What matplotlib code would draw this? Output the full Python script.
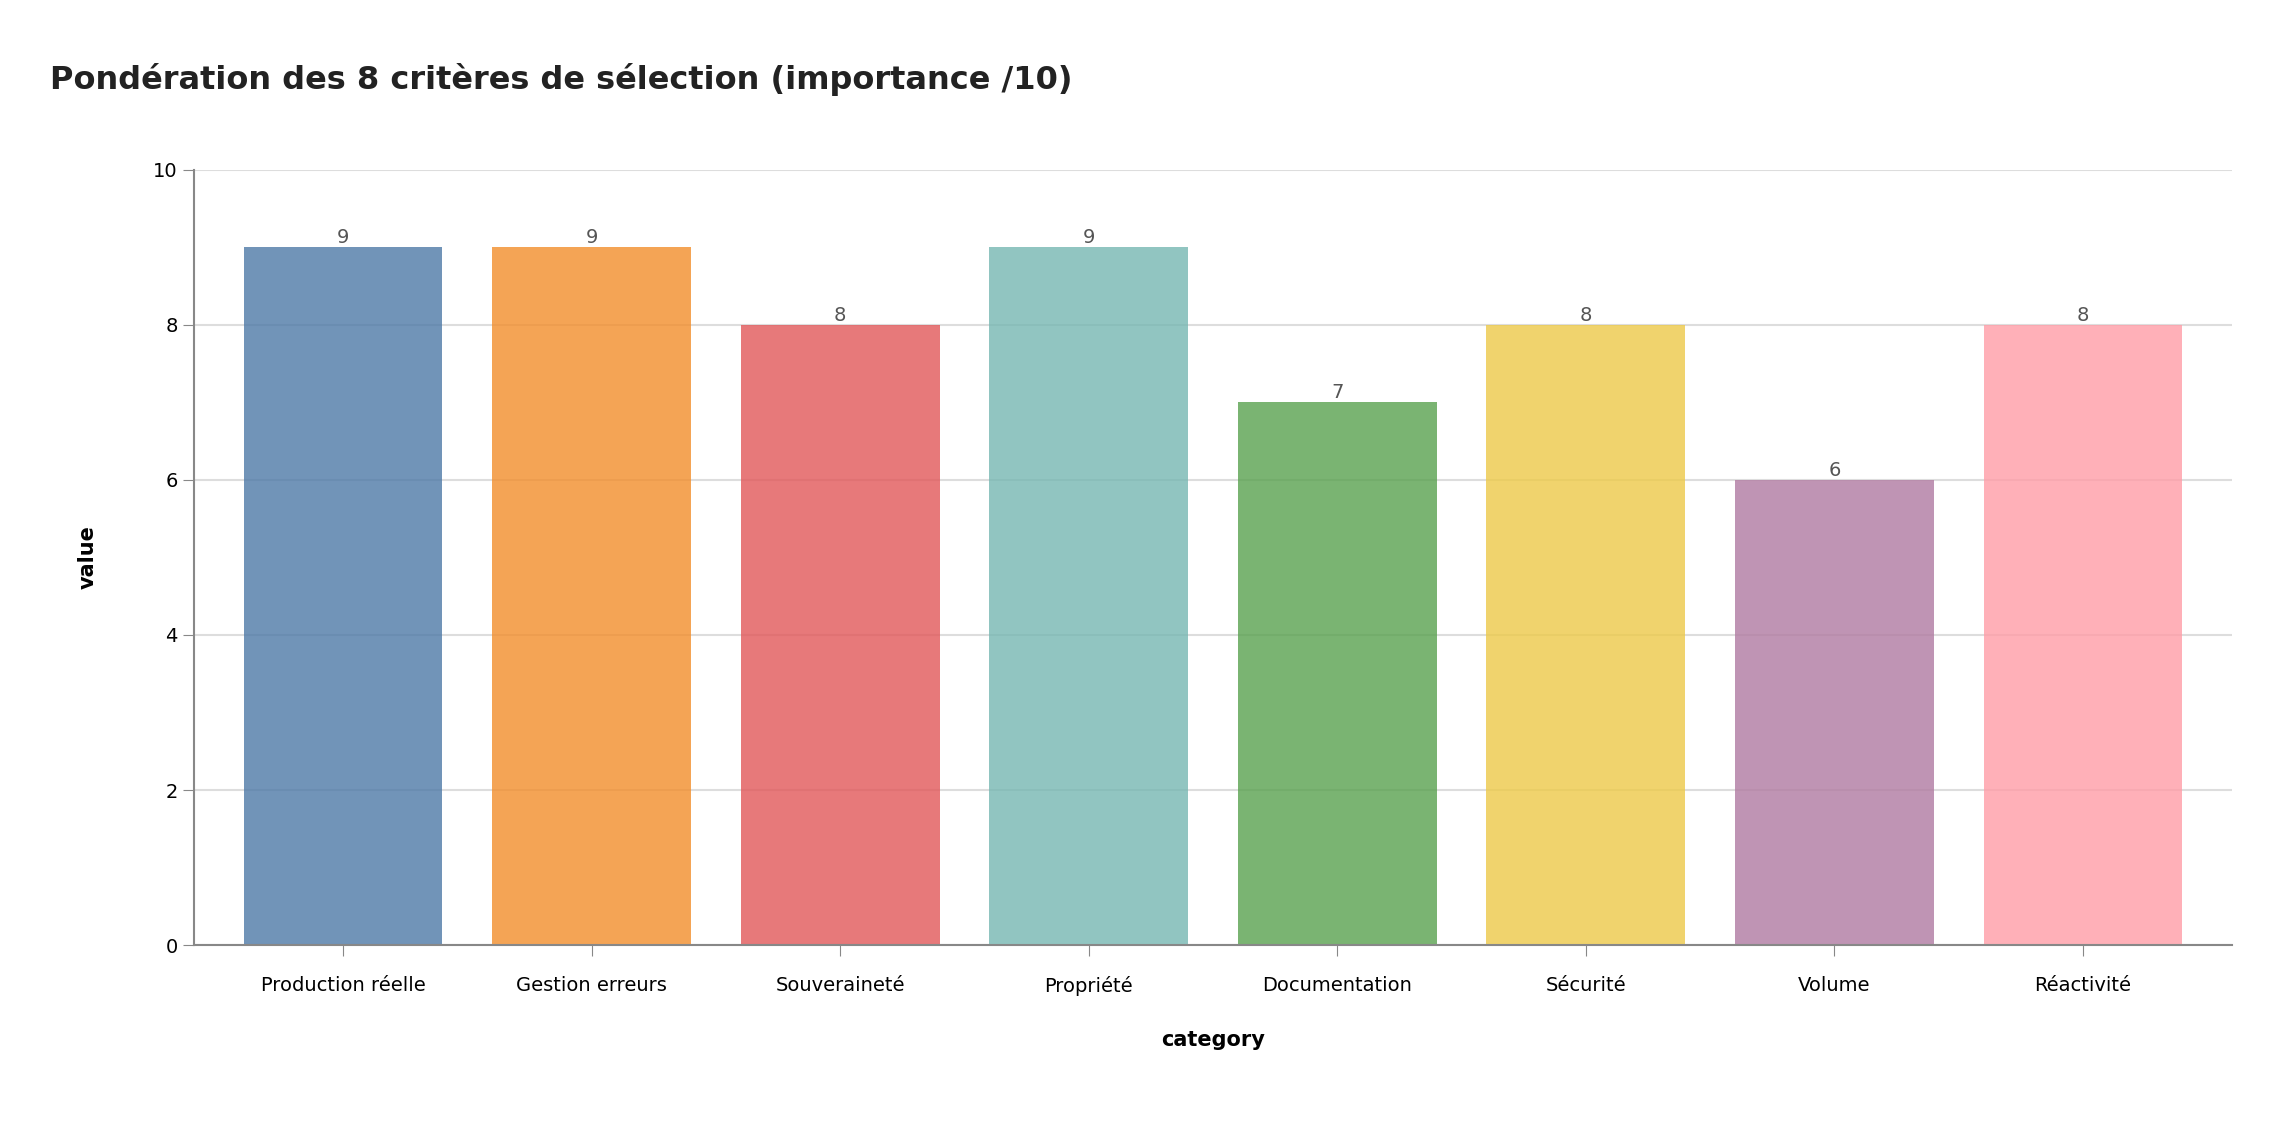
import matplotlib
matplotlib.use("Agg")
import matplotlib.pyplot as plt

categories = ["Production réelle", "Gestion erreurs", "Souveraineté", "Propriété",
              "Documentation", "Sécurité", "Volume", "Réactivité"]
values = [9, 9, 8, 9, 7, 8, 6, 8]
colors = ["#4e79a7", "#f28e2b", "#e15759", "#76b7b2",
          "#59a14f", "#edc948", "#b07aa1", "#ff9da7"]

fig = plt.figure(figsize=(22.8, 11.4), dpi=100)
ax = fig.add_axes([0.085, 0.171, 0.894, 0.68])

x = range(len(categories))
bars = ax.bar(x, values, width=0.8, color=colors, alpha=0.8, zorder=2)
for xi, v in zip(x, values):
    ax.text(xi, v, str(v), ha="center", va="bottom", fontsize=14, color="#555555")

ax.set_xlim(-0.6, len(categories) - 0.4)
ax.set_ylim(0, 10)
ax.set_yticks([0, 2, 4, 6, 8, 10])
ax.set_xticks(list(x))
ax.set_xticklabels(categories, fontsize=14)
ax.tick_params(axis="y", labelsize=14, length=8, color="#888888")
ax.tick_params(axis="x", length=8, color="#888888", pad=14)
ax.yaxis.grid(True, color="#dddddd", linewidth=1.5, zorder=0)
ax.set_axisbelow(True)
for s in ["top", "right"]:
    ax.spines[s].set_visible(False)
for s in ["left", "bottom"]:
    ax.spines[s].set_color("#888888")
    ax.spines[s].set_linewidth(1.5)

ax.set_xlabel("category", fontsize=15, fontweight="bold", labelpad=25)
ax.set_ylabel("value", fontsize=15, fontweight="bold", labelpad=40)
fig.text(0.022, 0.93, "Pondération des 8 critères de sélection (importance /10)",
         fontsize=23, fontweight="bold", color="#222222", va="center")

fig.savefig("out.png", dpi=100)
